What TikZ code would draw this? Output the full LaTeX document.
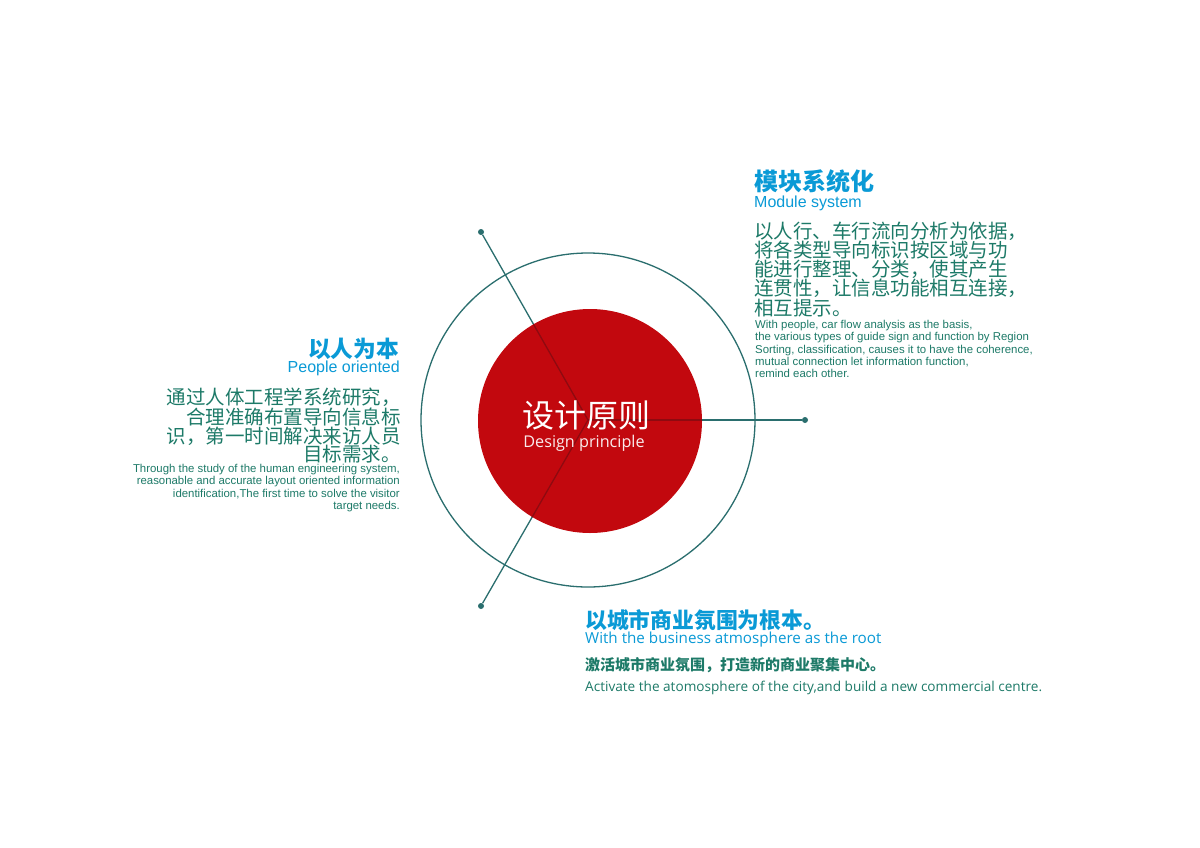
\documentclass[tikz,border=0pt]{standalone}
\usepackage{fontspec}
\setmainfont{Liberation Sans}
\newfontfamily\cjk{Noto Sans CJK SC}
\newfontfamily\opensans{Open Sans}
\definecolor{ringteal}{HTML}{2A6E6E}
\definecolor{corered}{HTML}{C2080E}
\definecolor{linered}{HTML}{8E0A10}
\definecolor{headblue}{HTML}{0A9AD6}
\definecolor{bodygreen}{HTML}{1D7A68}
\tikzset{
  every node/.style={inner sep=0pt},
  headcn/.style={text=headblue, font=\cjk\bfseries\fontsize{24}{24}\selectfont},
  heden/.style={text=headblue, font=\fontsize{16}{16}\selectfont},
  bodycn/.style={text=bodygreen, font=\cjk\fontsize{19.5}{19.1}\selectfont},
  bodyen/.style={text=bodygreen, font=\fontsize{11.4}{12.3}\selectfont},
  dotmark/.style={circle, fill=ringteal, minimum size=6pt},
  spoke/.style={ringteal, line width=1.3pt}
}
\begin{document}
\begin{tikzpicture}[x=1pt,y=-1pt]
\useasboundingbox (0,0) rectangle (1200,847);
\fill[white] (0,0) rectangle (1200,847);
% centre and the three ends
\coordinate (c) at (588,420);
\node[dotmark] (dmod) at (481,232) {};
\node[dotmark] (droot) at (805,420) {};
\node[dotmark] (dpeople) at (481,606) {};
% outer ring and red core
\node[circle, draw=ringteal, line width=1.3pt, minimum size=334pt] (ring) at (c) {};
\draw[spoke] (c) -- (dmod);
\draw[spoke] (c) -- (droot);
\draw[spoke] (c) -- (dpeople);
\node[circle, fill=corered, minimum size=224pt] (core) at (590,421) {};
\begin{scope}
\clip (590,421) circle (112pt);
\draw[linered, line width=1.3pt] (c) -- (dmod);
\draw[linered, line width=1.3pt] (c) -- (droot);
\draw[linered, line width=1.3pt] (c) -- (dpeople);
\end{scope}
\node[text=white, font=\cjk\fontsize{32}{32}\selectfont] (title) at (586,415) {设计原则};
\node[text=white!92!corered, font=\opensans\fontsize{16.2}{16}\selectfont] (subtitle) at (584,443) {Design principle};
% module system
\node[headcn, anchor=west] (modcn) at (754,181) {模块系统化};
\node[heden, anchor=west] (moden) at (754,203) {Module system};
\node[bodycn, anchor=north west, align=left] (modtxt) at (754,222)
  {以人行、车行流向分析为依据，\\将各类型导向标识按区域与功\\能进行整理、分类，使其产生\\连贯性，让信息功能相互连接，\\相互提示。};
\node[bodyen, anchor=north west, align=left] (moden2) at (755,320)
  {With people, car flow analysis as the basis,\\the various types of guide sign and function by Region\\Sorting, classification, causes it to have the coherence,\\mutual connection let information function,\\remind each other.};
% people oriented
\node[headcn, anchor=east, font=\cjk\bfseries\fontsize{22.7}{22.7}\selectfont] (pplcn) at (399,349) {以人为本};
\node[heden, anchor=east] (pplen) at (400,368) {People oriented};
\node[bodycn, anchor=north east, align=right, font=\cjk\fontsize{19.5}{18.6}\selectfont] (ppltxt) at (401,388)
  {通过人体工程学系统研究，\\合理准确布置导向信息标\\识，第一时间解决来访人员\\目标需求。};
\node[bodyen, anchor=north east, align=right] (pplen2) at (400,464)
  {Through the study of the human engineering system,\\reasonable and accurate layout oriented information\\identification,The first time to solve the visitor\\target needs.};
% business atmosphere
\node[headcn, anchor=west, font=\cjk\bfseries\fontsize{21.8}{21.8}\selectfont] (bizcn) at (585,620) {以城市商业氛围为根本。};
\node[text=headblue, anchor=west, font=\opensans\fontsize{15.2}{15.2}\selectfont] (bizen) at (585,640) {With the business atmosphere as the root};
\node[text=bodygreen, anchor=west, font=\cjk\bfseries\fontsize{15}{15}\selectfont] (biztxt) at (585,665) {激活城市商业氛围，打造新的商业聚集中心。};
\node[text=bodygreen, anchor=west, font=\opensans\fontsize{13.6}{13.6}\selectfont] (bizen2) at (585,688) {Activate the atomosphere of the city,and build a new commercial centre.};
\end{tikzpicture}
\end{document}
